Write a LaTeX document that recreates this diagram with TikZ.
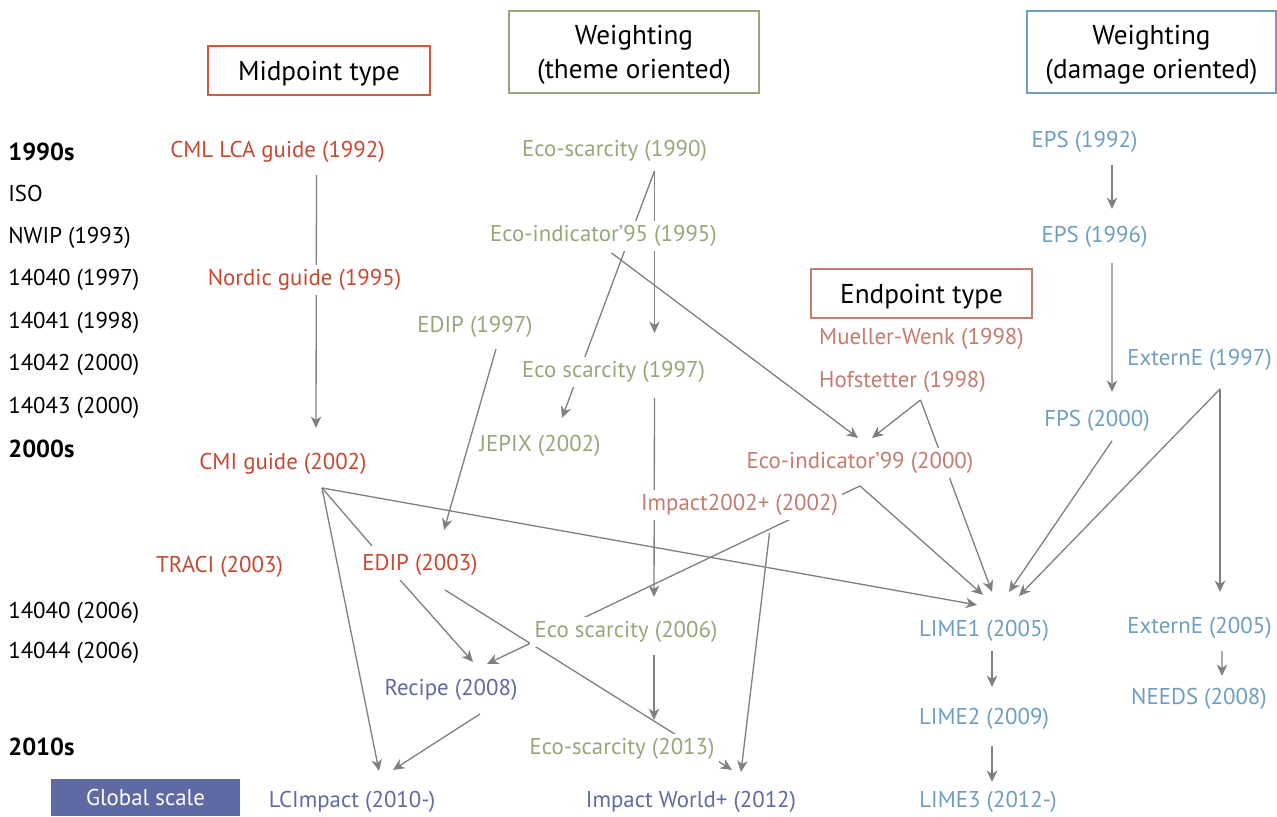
\documentclass[tikz,border=0pt]{standalone}
\usepackage{fontspec}
\setmainfont{PT Sans}
\usetikzlibrary{arrows.meta,backgrounds}

\definecolor{midred}{RGB}{201,72,48}
\definecolor{themegreen}{RGB}{150,168,120}
\definecolor{endrose}{RGB}{196,124,110}
\definecolor{globalblue}{RGB}{95,106,165}
\definecolor{damageblue}{RGB}{110,158,192}
\definecolor{arrowgray}{RGB}{128,128,130}

\begin{document}
\begin{tikzpicture}[x=0.02cm,y=-0.02cm]
\tikzstyle{dep}= [-{Stealth[length=6.5pt,width=6pt,inset=2pt]},draw=arrowgray,line width=0.75pt]
\tikzstyle{link}= [draw=arrowgray,line width=0.75pt]
\tikzstyle{lbl}= [fill=white,inner sep=2.5pt,yshift=-1.1pt,font=\fontsize{13}{15}\selectfont]
\tikzstyle{iso}= [anchor=west,inner sep=0pt,yshift=-1.1pt,font=\fontsize{13}{15}\selectfont]
\tikzstyle{decade}= [anchor=west,inner sep=0pt,yshift=-0.8pt,font=\fontsize{14}{16}\selectfont\bfseries]
\tikzstyle{hdr}= [draw,fill=white,line width=1.1pt,align=center,inner sep=0pt,text depth=0pt,font=\fontsize{15.5}{19}\selectfont]

\useasboundingbox (0,0) rectangle (1277,816);

% headers
\path
	( 319,  70.5) node[hdr,draw=midred!90,minimum width=4.44cm,minimum height=0.98cm] (hmid) {Midpoint type}
	( 634,  52) node[hdr,draw=themegreen,minimum width=5cm,minimum height=1.64cm] (htheme) {Weighting\\(theme oriented)}
	(1151.5,52) node[hdr,draw=damageblue,minimum width=4.97cm,minimum height=1.64cm] (hdamage) {Weighting\\(damage oriented)}
	( 921.5,293.5) node[hdr,draw=endrose,minimum width=4.42cm,minimum height=0.98cm] (hend) {Endpoint type}
	( 145.5,797.5) node[fill=globalblue,text=white,minimum width=3.78cm,minimum height=0.74cm,inner sep=0pt,text depth=0pt,font=\fontsize{13}{15}\selectfont] (glob) {Global scale}
;

% ISO timeline
\path
	(8,150) node[decade] (d1990) {1990s}
	(8,192) node[iso] (iso) {ISO}
	(8,236) node[iso] (nwip) {NWIP (1993)}
	(8,278) node[iso] (i40a) {14040 (1997)}
	(8,321) node[iso] (i41) {14041 (1998)}
	(8,363) node[iso] (i42) {14042 (2000)}
	(8,406) node[iso] (i43) {14043 (2000)}
	(8,447) node[decade] (d2000) {2000s}
	(8,611) node[iso] (i40b) {14040 (2006)}
	(8,651) node[iso] (i44) {14044 (2006)}
	(8,745) node[decade] (d2010) {2010s}
;

% midpoint methods
\path
	(277.5,150) node[lbl,text=midred] (cml) {CML LCA guide (1992)}
	(304.5,278) node[lbl,text=midred] (nordic) {Nordic guide (1995)}
	(283,462) node[lbl,text=midred] (cmi) {CMI guide (2002)}
	(219.5,565) node[lbl,text=midred] (traci) {TRACI (2003)}
	(420,563) node[lbl,text=midred] (edip03) {EDIP (2003)}
;

% theme oriented weighting
\path
	(614.5,149) node[lbl,text=themegreen] (eco90) {Eco-scarcity (1990)}
	(603.5,234) node[lbl,text=themegreen] (eco95) {Eco-indicator’95 (1995)}
	(475,325) node[lbl,text=themegreen] (edip97) {EDIP (1997)}
	(613.5,370) node[lbl,text=themegreen] (eco97) {Eco scarcity (1997)}
	(540,444) node[lbl,text=themegreen] (jepix) {JEPIX (2002)}
	(626,630) node[lbl,text=themegreen] (eco06) {Eco scarcity (2006)}
	(622,747) node[lbl,text=themegreen] (eco13) {Eco-scarcity (2013)}
;

% endpoint methods
\path
	(921.5,337) node[lbl,text=endrose] (mueller) {Mueller-Wenk (1998)}
	(902.5,380) node[lbl,text=endrose] (hof) {Hofstetter (1998)}
	(860,461) node[lbl,text=endrose] (eco99) {Eco-indicator’99 (2000)}
	(739.5,503) node[lbl,text=endrose] (imp02) {Impact2002+ (2002)}
;

% global scale
\path
	(451,688) node[lbl,text=globalblue] (recipe) {Recipe (2008)}
	(352,800) node[lbl,text=globalblue] (lcimp) {LCImpact (2010-)}
	(691,800) node[lbl,text=globalblue] (iw) {Impact World+ (2012)}
;

% damage oriented weighting
\path
	(1084.5,140) node[lbl,text=damageblue] (eps92) {EPS (1992)}
	(1094.5,235) node[lbl,text=damageblue] (eps96) {EPS (1996)}
	(1199.5,358) node[lbl,text=damageblue] (ext97) {ExternE (1997)}
	(1097,419) node[lbl,text=damageblue] (fps) {FPS (2000)}
	(984,629) node[lbl,text=damageblue] (lime1) {LIME1 (2005)}
	(1199.5,626) node[lbl,text=damageblue] (ext05) {ExternE (2005)}
	(1199,697) node[lbl,text=damageblue] (needs) {NEEDS (2008)}
	(984,717) node[lbl,text=damageblue] (lime2) {LIME2 (2009)}
	(988,800) node[lbl,text=damageblue] (lime3) {LIME3 (2012-)}
;

\begin{scope}[on background layer]
\draw[dep] ([shift={(39,23)}]cml.center) -- ([shift={(33,-36)}]cmi.center);
\draw[dep] ([shift={(40,20)}]eco90.center) -- ([shift={(41,-39)}]eco97.center);
\draw[dep] ([shift={(40,20)}]eco90.center) -- ([shift={(22,-28)}]jepix.center);
\draw[dep] ([shift={(8,17)}]eco95.center) -- ([shift={(-2,-25)}]eco99.center);
\draw[dep] ([shift={(21,22)}]edip97.center) -- ([shift={(24,-35)}]edip03.center);
\draw[dep] ([shift={(41,26)}]eco97.center) -- ([shift={(28,-35)}]eco06.center);
\draw[dep] ([shift={(28,23)}]eco06.center) -- ([shift={(32,-29)}]eco13.center);
\draw[dep] ([shift={(18,18)}]hof.center) -- ([shift={(12,-25)}]eco99.center);
\draw[dep] ([shift={(18,18)}]hof.center) -- ([shift={(8,-39)}]lime1.center);
\draw[dep] ([shift={(0,23)}]eco99.center) -- ([shift={(-1,-36)}]lime1.center);
\draw[dep] ([shift={(0,23)}]eco99.center) -- ([shift={(36,-26)}]recipe.center);
\draw[dep] ([shift={(30,28)}]imp02.center) -- ([shift={(50,-30)}]iw.center);
\draw[link] ([shift={(39,24)}]cmi.center) -- ([shift={(-48,-19)}]edip03.center);
\draw[dep] ([shift={(39,24)}]cmi.center) -- ([shift={(27,-31)}]lcimp.center);
\draw[dep] ([shift={(39,24)}]cmi.center) -- ([shift={(-7,-26)}]lime1.center);
\draw[dep] ([shift={(-20,15)}]edip03.center) -- ([shift={(22,-28)}]recipe.center);
\draw[dep] ([shift={(25,25)}]edip03.center) -- ([shift={(41,-32)}]iw.center);
\draw[dep] ([shift={(29,24)}]recipe.center) -- ([shift={(41,-32)}]lcimp.center);
\draw[dep] ([shift={(27.5,23)}]eps92.center) -- ([shift={(17.5,-28)}]eps96.center);
\draw[dep] ([shift={(17.5,26)}]eps96.center) -- ([shift={(15,-29)}]fps.center);
\draw[dep] ([shift={(15,20)}]fps.center) -- ([shift={(25,-39)}]lime1.center);
\draw[dep] ([shift={(20.5,29)}]ext97.center) -- ([shift={(20.5,-36)}]ext05.center);
\draw[dep] ([shift={(20.5,29)}]ext97.center) -- ([shift={(35,-35)}]lime1.center);
\draw[dep] ([shift={(22.5,23)}]ext05.center) -- ([shift={(23,-23)}]needs.center);
\draw[dep] ([shift={(8,20)}]lime1.center) -- ([shift={(8,-32)}]lime2.center);
\draw[dep] ([shift={(8,27)}]lime2.center) -- ([shift={(4,-20)}]lime3.center);
\end{scope}
\end{tikzpicture}
\end{document}
